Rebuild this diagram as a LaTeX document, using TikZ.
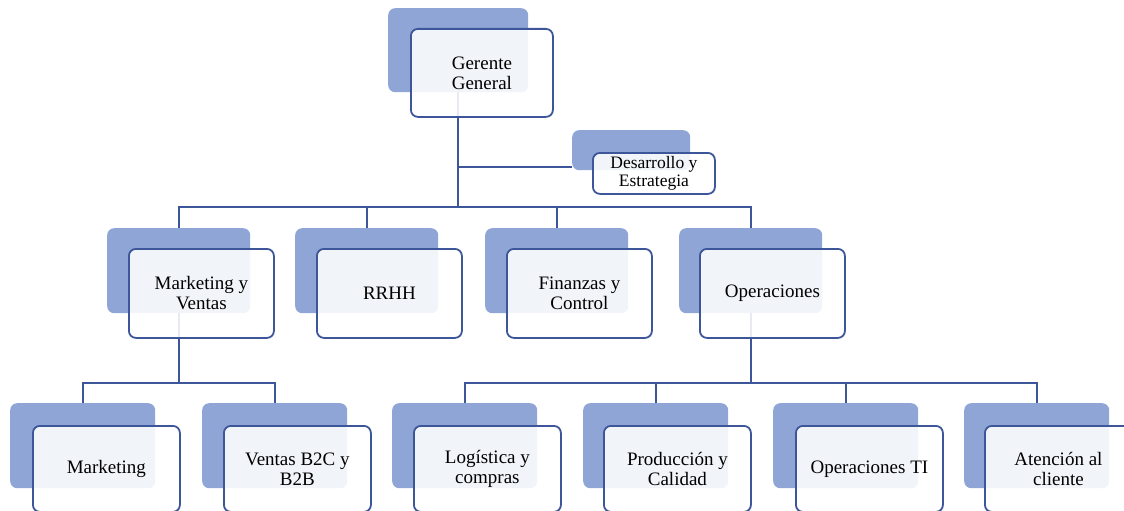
\documentclass[tikz,border=0pt]{standalone}
\usepackage{fontspec}
\setmainfont{Liberation Serif}
\definecolor{tile}{RGB}{143,165,213}
\definecolor{edge}{RGB}{60,86,153}
\begin{document}
\begin{tikzpicture}[x=1pt,y=-1pt,
  back/.style={draw=none, fill=tile, rounded corners=7pt, anchor=north west, inner sep=0pt},
  front/.style={draw=edge, line width=1.8pt, fill=white, fill opacity=0.88, text opacity=1,
    rounded corners=7pt, anchor=north west, inner sep=0pt, align=center,
    font=\fontsize{19}{20}\selectfont},
  lvltwo/.style={front, minimum width=145pt, minimum height=89pt},
  lvlthree/.style={front, minimum width=147pt, minimum height=86pt},
  link/.style={draw=edge, line width=2pt}]
\useasboundingbox (0,0) rectangle (1124,511);
\clip (0,0) rectangle (1124,511);

% shaded tiles behind each box
\node[back, minimum width=140pt, minimum height=84pt] (gg) at (388,8) {};
\node[back, minimum width=118pt, minimum height=40pt] (dev) at (572,130) {};
\foreach \n/\x in {mv/107, rh/295, fc/485, op/679}
  \node[back, minimum width=143pt, minimum height=85pt] (\n) at (\x,228) {};
\foreach \n/\x in {mk/10, vb/202, lc/392, pc/583, ot/773, ac/964}
  \node[back, minimum width=145pt, minimum height=85pt] (\n) at (\x,403) {};

% connectors
\draw[link] (gg.south) -- ++(0,115) coordinate (hub);
\path ([yshift=3pt]dev.south west) coordinate (devin);
\draw[link] (gg.south |- devin) -- (devin);
\draw[link] (mv.north) |- (op.north |- hub) -- (op.north);
\draw[link] (rh.north) -- (rh.north |- hub);
\draw[link] (fc.north) -- (fc.north |- hub);

\draw[link] (mv.south) -- ++(0,70) coordinate (mvhub);
\draw[link] (mk.north) |- (vb.north |- mvhub) -- (vb.north);

\draw[link] (op.south) -- ++(0,70) coordinate (ophub);
\draw[link] (lc.north) |- (ac.north |- ophub) -- (ac.north);
\draw[link] (pc.north) -- (pc.north |- ophub);
\draw[link] (ot.north) -- (ot.north |- ophub);

% labelled boxes
\node[front, minimum width=142pt, minimum height=88pt] (ggf) at (410,28) {Gerente\\General};
\node[front, minimum width=122pt, minimum height=41pt, font=\fontsize{17.5}{18}\selectfont]
  (devf) at (592,152) {Desarrollo y\\Estrategia};

\node[lvltwo] (mvf) at (128,248) {Marketing y\\Ventas};
\node[lvltwo] (rhf) at (316,248) {RRHH};
\node[lvltwo] (fcf) at (506,248) {Finanzas y\\Control};
\node[lvltwo] (opf) at (699,248) {Operaciones};

\node[lvlthree] (mkf) at (32,425) {Marketing};
\node[lvlthree] (vbf) at (223,425) {Ventas B2C y\\B2B};
\node[lvlthree] (lcf) at (413,425) {Logística y\\compras};
\node[lvlthree] (pcf) at (603,425) {Producción y\\Calidad};
\node[lvlthree] (otf) at (795,425) {Operaciones TI};
\node[lvlthree] (acf) at (984,425) {Atención al\\cliente};
\end{tikzpicture}
\end{document}
